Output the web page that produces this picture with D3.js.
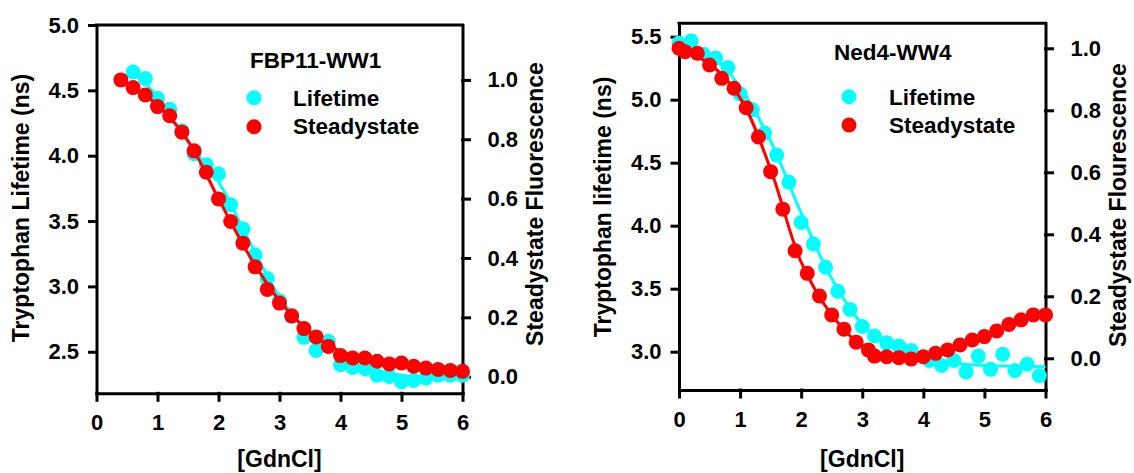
<!DOCTYPE html>
<html>
<head>
<meta charset="utf-8">
<script src="https://cdn.jsdelivr.net/npm/d3@7"></script>
<style>
  body { margin: 0; background: #fff; }
  text { font-family: "Liberation Sans", Arial, sans-serif; font-weight: bold; fill: #000; }
</style>
</head>
<body>
<svg id="chart" width="1134" height="473"></svg>
<script>
// ---------- FBP11-WW1 ----------
const fbpSteadyX = [0.4,0.6,0.8,1.0,1.2,1.4,1.6,1.8,2.0,2.2,2.4,2.6,2.8,3.0,3.2,3.4,3.6,3.8,4.0,4.2,4.4,4.6,4.8,5.0,5.2,5.4,5.6,5.8,6.0];
const fbpSteadyY = [1.00,0.974,0.949,0.910,0.879,0.824,0.761,0.689,0.599,0.523,0.450,0.370,0.294,0.248,0.205,0.162,0.134,0.102,0.071,0.063,0.063,0.052,0.043,0.046,0.035,0.029,0.024,0.021,0.018];
const fbpLifeX = [0.6,0.8,1.0,1.2,1.4,1.6,1.8,2.0,2.2,2.4,2.6,2.8,3.0,3.2,3.4,3.6,3.8,4.0,4.2,4.4,4.6,4.8,5.0,5.2,5.4,5.6,5.8,6.0];
const fbpLifeY = [4.64,4.59,4.44,4.355,4.19,4.015,3.93,3.86,3.625,3.44,3.24,3.06,2.89,2.77,2.61,2.51,2.58,2.40,2.38,2.37,2.32,2.31,2.27,2.28,2.30,2.32,2.32,2.32];
const fbpLifeFitX = [0.6,1.0,1.5,2.0,2.5,3.0,3.5,4.0,4.5,5.0,5.5,6.0];
const fbpLifeFitY = [4.64,4.45,4.10,3.80,3.35,2.92,2.64,2.46,2.37,2.32,2.30,2.30];
const fbpSteadyFitX = [0.4,1.0,1.5,2.0,2.5,3.0,3.5,4.0,4.5,5.0,5.5,6.0];
const fbpSteadyFitY = [1.00,0.915,0.795,0.600,0.410,0.255,0.150,0.085,0.055,0.040,0.028,0.020];

// ---------- Ned4-WW4 ----------
const nedSteadyX = [0,0.1,0.3,0.5,0.7,0.9,1.1,1.3,1.5,1.7,1.9,2.1,2.3,2.5,2.7,2.9,3.1,3.2,3.4,3.6,3.8,4.0,4.2,4.4,4.6,4.8,5.0,5.2,5.4,5.6,5.8,6.0];
const nedSteadyY = [1.00,0.989,0.984,0.946,0.903,0.871,0.808,0.714,0.602,0.481,0.347,0.274,0.201,0.140,0.094,0.052,0.027,0.007,0.005,0.002,-0.002,0.005,0.016,0.027,0.043,0.059,0.070,0.088,0.109,0.124,0.140,0.140];
const nedLifeX = [0,0.2,0.4,0.6,0.8,1.0,1.2,1.4,1.6,1.8,2.0,2.2,2.4,2.6,2.8,3.0,3.2,3.4,3.6,3.8,4.1,4.3,4.5,4.7,4.9,5.1,5.3,5.5,5.7,5.9];
const nedLifeY = [5.45,5.465,5.36,5.33,5.255,5.045,4.92,4.735,4.56,4.345,4.025,3.855,3.67,3.48,3.335,3.20,3.125,3.07,3.045,3.01,2.93,2.89,2.93,2.84,2.965,2.86,2.98,2.85,2.90,2.81];
const nedLifeFitX = [0,0.5,1.0,1.5,2.0,2.5,3.0,3.5,4.0,4.5,5.0,5.5,6.0];
const nedLifeFitY = [5.45,5.36,5.10,4.67,4.10,3.58,3.22,3.04,2.95,2.91,2.89,2.885,2.88];
const nedSteadyFitX = [0,0.5,1.0,1.5,2.0,2.5,3.0,3.5,4.0,4.5,5.0,5.5,6.0];
const nedSteadyFitY = [1.00,0.95,0.84,0.61,0.31,0.14,0.04,0.005,0.0,0.03,0.07,0.115,0.145];

// ---------- axis ticks and labels ----------
const xTicks = [0,1,2,3,4,5,6];
const fbpLifeTicks = [2.5,3.0,3.5,4.0,4.5,5.0];
const nedLifeTicks = [3.0,3.5,4.0,4.5,5.0,5.5];
const fluorTicks = [0.0,0.2,0.4,0.6,0.8,1.0];
const xTitle = "[GdnCl]";
const legendLabels = ["Lifetime", "Steadystate"];

const CYAN = "#00ffff", RED = "#ff0000";
const svg = d3.select("#chart");

function zip(xs, ys) { return xs.map((x, i) => ({x, y: ys[i]})); }

function drawPanel(p) {
  const g = svg.append("g");
  const x = d3.scaleLinear().domain([0, 6]).range([p.left, p.right]);
  const yL = d3.scaleLinear().domain(p.lifeDomain).range([p.bottom, p.top]);
  const yR = d3.scaleLinear().domain(p.fluorDomain).range([p.bottom, p.top]);
  const fmt = d3.format(".1f");

  // axes
  const ax = g.append("g").attr("class", "axes");
  ax.append("g").attr("transform", `translate(0,${p.bottom})`)
    .call(d3.axisBottom(x).tickValues(xTicks).tickFormat(d3.format("d")).tickSize(7).tickSizeOuter(0).tickPadding(14));
  ax.append("g").attr("transform", `translate(${p.left},0)`)
    .call(d3.axisLeft(yL).tickValues(p.lifeTicks).tickFormat(fmt).tickSize(7).tickSizeOuter(0).tickPadding(10.5));
  ax.append("g").attr("transform", `translate(${p.right},0)`)
    .call(d3.axisRight(yR).tickValues(fluorTicks).tickFormat(fmt).tickSize(7).tickSizeOuter(0).tickPadding(18));
  ax.selectAll("path.domain, .tick line").attr("stroke", "#000").attr("stroke-width", 3).attr("stroke-linecap", "square");
  ax.selectAll(".tick text").style("font-size", "22px").style("font-family", '"Liberation Sans", Arial, sans-serif').style("font-weight", "bold");
  // top frame edge
  g.append("line").attr("x1", p.left).attr("x2", p.right).attr("y1", p.top).attr("y2", p.top)
    .attr("stroke", "#000").attr("stroke-width", 3).attr("stroke-linecap", "square");

  // fitted curves and points
  const lifeLine = d3.line().x(d => x(d.x)).y(d => yL(d.y)).curve(d3.curveCatmullRom.alpha(0.5));
  const fluorLine = d3.line().x(d => x(d.x)).y(d => yR(d.y)).curve(d3.curveCatmullRom.alpha(0.5));

  g.append("path").datum(zip(p.lifeFitX, p.lifeFitY)).attr("d", lifeLine)
    .attr("fill", "none").attr("stroke", CYAN).attr("stroke-width", 3);
  g.append("g").selectAll("circle").data(zip(p.lifeX, p.lifeY)).join("circle")
    .attr("cx", d => x(d.x)).attr("cy", d => yL(d.y)).attr("r", 7.5).attr("fill", CYAN);

  g.append("path").datum(zip(p.steadyFitX, p.steadyFitY)).attr("d", fluorLine)
    .attr("fill", "none").attr("stroke", RED).attr("stroke-width", 3);
  g.append("g").selectAll("circle").data(zip(p.steadyX, p.steadyY)).join("circle")
    .attr("cx", d => x(d.x)).attr("cy", d => yR(d.y)).attr("r", 7.5).attr("fill", RED);

  // titles
  g.append("text").attr("x", (p.left + p.right) / 2).attr("y", 467)
    .attr("text-anchor", "middle").style("font-size", "23px").text(xTitle);
  g.append("text").attr("transform", `translate(${p.leftTitleX},${p.leftTitleY}) rotate(-90)`)
    .attr("text-anchor", "middle").style("font-size", "23px").text(p.leftTitle);
  g.append("text").attr("transform", `translate(${p.rightTitleX},${p.rightTitleY}) rotate(-90)`)
    .attr("text-anchor", "middle").style("font-size", "23px").text(p.rightTitle);

  // legend
  g.append("text").attr("x", p.nameX).attr("y", p.nameY).style("font-size", "22.5px").text(p.name);
  [CYAN, RED].forEach((c, i) => {
    g.append("circle").attr("cx", p.legDotX).attr("cy", p.legDotY[i]).attr("r", 7.5).attr("fill", c);
    g.append("text").attr("x", p.legTextX).attr("y", p.legTextY[i]).style("font-size", "22.5px").text(legendLabels[i]);
  });
}

drawPanel({
  left: 96.5, right: 462.5, top: 25, bottom: 393.3,
  lifeDomain: [2.182, 5.0], fluorDomain: [-0.056, 1.185], lifeTicks: fbpLifeTicks,
  lifeX: fbpLifeX, lifeY: fbpLifeY, steadyX: fbpSteadyX, steadyY: fbpSteadyY,
  lifeFitX: fbpLifeFitX, lifeFitY: fbpLifeFitY, steadyFitX: fbpSteadyFitX, steadyFitY: fbpSteadyFitY,
  leftTitle: "Tryptophan Lifetime (ns)", leftTitleX: 29, leftTitleY: 208,
  rightTitle: "Steadystate Fluorescence", rightTitleX: 543, rightTitleY: 204,
  name: "FBP11-WW1", nameX: 250, nameY: 68,
  legDotX: 254, legDotY: [97.7, 126.7], legTextX: 293, legTextY: [106, 134]
});

drawPanel({
  left: 679, right: 1045.5, top: 23.3, bottom: 390,
  lifeDomain: [2.696, 5.606], fluorDomain: [-0.1023, 1.0806], lifeTicks: nedLifeTicks,
  lifeX: nedLifeX, lifeY: nedLifeY, steadyX: nedSteadyX, steadyY: nedSteadyY,
  lifeFitX: nedLifeFitX, lifeFitY: nedLifeFitY, steadyFitX: nedSteadyFitX, steadyFitY: nedSteadyFitY,
  leftTitle: "Tryptophan lifetime (ns)", leftTitleX: 611, leftTitleY: 207,
  rightTitle: "Steadystate Flourescence", rightTitleX: 1126, rightTitleY: 205,
  name: "Ned4-WW4", nameX: 834, nameY: 60,
  legDotX: 849, legDotY: [96.7, 125], legTextX: 889, legTextY: [105, 133]
});
</script>
</body>
</html>
